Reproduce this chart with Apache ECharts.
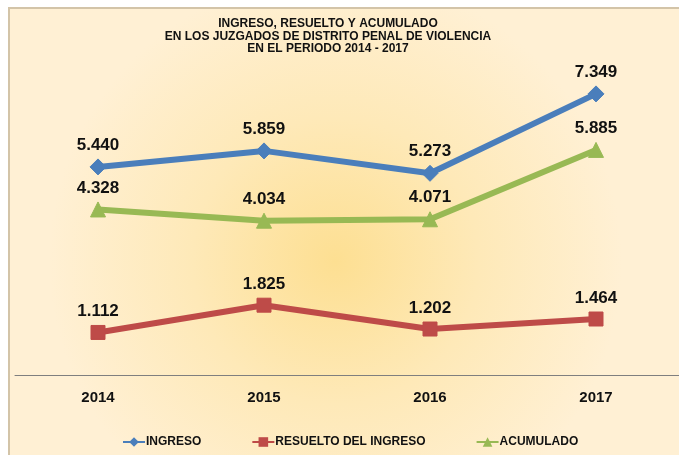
<!DOCTYPE html>
<html>
<head>
<meta charset="utf-8">
<script src="https://cdn.jsdelivr.net/npm/echarts@6/dist/echarts.min.js"></script>
<style>
  html, body { margin: 0; padding: 0; background: #fff; }
  #main { width: 679px; height: 455px; }
</style>
</head>
<body>
<div id="main"></div>
<script>
const years = ['2014', '2015', '2016', '2017'];
const ingreso = [5440, 5859, 5273, 7349];
const resuelto = [1112, 1825, 1202, 1464];
const acumulado = [4328, 4034, 4071, 5885];

const seriesNames = ['INGRESO', 'RESUELTO DEL INGRESO', 'ACUMULADO'];
const titleText = 'INGRESO, RESUELTO Y ACUMULADO\nEN LOS JUZGADOS DE DISTRITO PENAL DE VIOLENCIA\nEN EL PERIODO 2014 - 2017';

// 5440 -> "5.440"
function fmt(v) {
  return String(v).replace(/\B(?=(\d{3})+(?!\d))/g, '.');
}

const chart = echarts.init(document.getElementById('main'));

function lineSeries(name, data, color, symbol, size) {
  return {
    name: name,
    type: 'line',
    data: data,
    symbol: symbol,
    symbolSize: size,
    lineStyle: { color: color, width: 6 },
    itemStyle: { color: color, borderColor: color },
    label: {
      show: true,
      position: 'top',
      distance: 5,
      formatter: p => fmt(p.value),
      fontFamily: 'Liberation Sans, Arial, sans-serif',
      fontWeight: 'bold',
      fontSize: 17,
      color: '#111'
    },
    z: 3
  };
}

chart.setOption({
  backgroundColor: '#fff',
  animation: false,
  title: {
    text: titleText,
    left: 323,
    top: 12,
    textAlign: 'center',
    textStyle: {
      fontFamily: 'Liberation Sans, Arial, sans-serif',
      fontWeight: 'bold',
      fontSize: 12,
      lineHeight: 12.8,
      color: '#111'
    }
  },
  graphic: [{
    type: 'rect',
    z: -10,
    silent: true,
    shape: { x: 9, y: 8, width: 680, height: 460 },
    style: {
      fill: {
        type: 'radial', x: 0.48, y: 0.55, r: 0.62,
        colorStops: [
          { offset: 0, color: '#fddf92' },
          { offset: 0.5, color: '#fee9b8' },
          { offset: 1, color: '#fff0d4' }
        ]
      },
      stroke: '#d3c4a8',
      lineWidth: 2
    }
  }],
  legend: {
    data: seriesNames,
    left: 117,
    top: 431,
    itemWidth: 22,
    itemHeight: 12,
    itemGap: 50,
    textStyle: {
      fontFamily: 'Liberation Sans, Arial, sans-serif',
      fontWeight: 'bold',
      fontSize: 12,
      color: '#111',
      padding: [0, 0, 0, -4]
    }
  },
  grid: { left: 15, right: -1, top: 69, bottom: 80 },
  xAxis: {
    type: 'category',
    data: years,
    boundaryGap: true,
    axisLine: { lineStyle: { color: '#7f7f7f', width: 1 } },
    axisTick: { show: false },
    axisLabel: {
      margin: 15,
      fontFamily: 'Liberation Sans, Arial, sans-serif',
      fontWeight: 'bold',
      fontSize: 15,
      color: '#111'
    }
  },
  yAxis: {
    type: 'value',
    min: 0,
    max: 8000,
    show: false
  },
  series: [
    lineSeries(seriesNames[0], ingreso, '#4a7ebb', 'diamond', 16),
    lineSeries(seriesNames[1], resuelto, '#be4b48', 'rect', 14),
    lineSeries(seriesNames[2], acumulado, '#98b954', 'triangle', 15)
  ]
});
</script>
</body>
</html>
